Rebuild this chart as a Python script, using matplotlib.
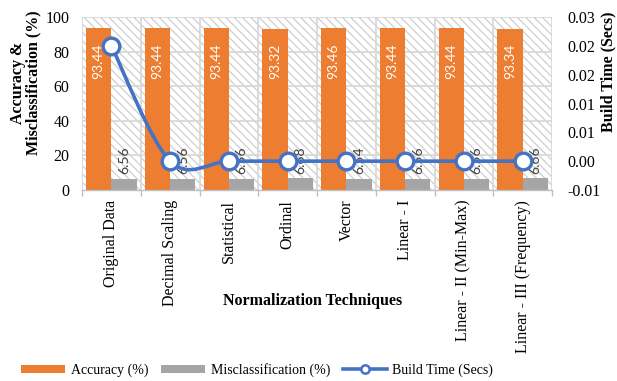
import numpy as np
import matplotlib
matplotlib.use("Agg")
import matplotlib.pyplot as plt
from matplotlib.patches import Rectangle, Patch, PathPatch
from matplotlib.lines import Line2D
from matplotlib.path import Path

# ---- data -----------------------------------------------------------------
techniques = ["Original Data", "Decimal Scaling", "Statistical", "Ordinal",
              "Vector", "Linear - I", "Linear - II (Min-Max)",
              "Linear - III (Frequency)"]
accuracy = [93.44, 93.44, 93.44, 93.32, 93.46, 93.44, 93.44, 93.34]
misclassification = [6.56, 6.56, 6.56, 6.68, 6.54, 6.56, 6.56, 6.66]
build_time = [0.02, 0.0, 0.0, 0.0, 0.0, 0.0, 0.0, 0.0]

left_ticks = [0, 20, 40, 60, 80, 100]
right_ticks = [-0.005, 0.0, 0.005, 0.01, 0.015, 0.02, 0.025]
right_tick_labels = ["-0.01", "0.00", "0.01", "0.01", "0.02", "0.02", "0.03"]

ORANGE = "#ED7D31"
GRAY = "#A5A5A5"
BLUE = "#4472C4"
GRID = "#D9D9D9"
SERIF = "Liberation Serif"
SANS = "Lato"

plt.rcParams["font.family"] = SERIF
plt.rcParams["hatch.linewidth"] = 0.9

fig = plt.figure(figsize=(6.17, 3.81), dpi=100)
ax = fig.add_axes([82 / 617, 1 - 190 / 381, 470 / 617, 173 / 381])

n = len(techniques)
x = np.arange(n)
w = 0.43

# hatched plot-area background
bg = Rectangle((0, 0), 1, 1, transform=ax.transAxes, facecolor="white",
               edgecolor="#CFCFCF", hatch="\\\\\\\\", linewidth=0, zorder=0)
ax.add_patch(bg)

ax.set_xlim(-0.5, n - 0.5)
ax.set_ylim(0, 100)

# gridlines
for yv in left_ticks[1:]:
    ax.axhline(yv, color=GRID, lw=1.3, zorder=1)
for xv in np.arange(-0.5, n, 1.0):
    ax.axvline(xv, color=GRID, lw=1.3, zorder=1)

ax.bar(x - w / 2, accuracy, w, color=ORANGE, zorder=2)
ax.bar(x + w / 2, misclassification, w, color=GRAY, zorder=2)

for xi, v in zip(x, accuracy):
    ax.annotate(f"{v:.2f}", (xi - w / 2, v), xytext=(0, -11),
                textcoords="offset points", rotation=90, ha="center",
                va="top", color="white", fontsize=10, family=SANS, zorder=3)
for xi, v in zip(x, misclassification):
    ax.annotate(f"{v:.2f}", (xi + w / 2, v), xytext=(0, 3.5),
                textcoords="offset points", rotation=90, ha="center",
                va="bottom", color="#404040", fontsize=10, family=SANS,
                zorder=3)

for s in ax.spines.values():
    s.set_visible(False)
ax.spines["bottom"].set_visible(True)
ax.spines["bottom"].set_color("#BFBFBF")
ax.spines["bottom"].set_linewidth(1.0)

ax.set_yticks(left_ticks)
ax.tick_params(axis="y", length=0, pad=9, labelsize=11.5)
ax.set_xticks(x)
ax.set_xticklabels(techniques, rotation=90, fontsize=11.5)
ax.set_xticks(np.arange(-0.5, n, 1.0), minor=True)
ax.tick_params(axis="x", which="major", length=0, pad=7)
ax.tick_params(axis="x", which="minor", length=4, color="#BFBFBF", width=1)

ax.set_xlabel("Normalization Techniques", fontsize=11.5, fontweight="bold")
ax.xaxis.set_label_coords((313 - 82) / 470, (190 - 293) / 173)
ax.set_ylabel("Accuracy &\nMisclassification (%)", fontsize=11.5,
              fontweight="bold", linespacing=1.0)
ax.yaxis.set_label_coords(-0.086, (190 - 83) / 173)

# secondary axis: build time, smoothed line
ax2 = ax.twinx()
ax2.set_ylim(-0.005, 0.025)
ax2.set_yticks(right_ticks)
ax2.set_yticklabels(right_tick_labels)
ax2.tick_params(axis="y", length=0, pad=11, labelsize=11.5)
for s in ax2.spines.values():
    s.set_visible(False)

pts = np.column_stack([x, build_time]).astype(float)
verts = [tuple(pts[0])]
codes = [Path.MOVETO]
for i in range(n - 1):
    p0 = pts[i - 1] if i > 0 else pts[i]
    p1, p2 = pts[i], pts[i + 1]
    p3 = pts[i + 2] if i + 2 < n else pts[i + 1]
    c1 = p1 + (p2 - p0) / 6
    c2 = p2 - (p3 - p1) / 6
    verts += [tuple(c1), tuple(c2), tuple(p2)]
    codes += [Path.CURVE4] * 3
curve = PathPatch(Path(verts, codes), facecolor="none", edgecolor=BLUE,
                  lw=2.6, zorder=4, capstyle="round", joinstyle="round")
ax2.add_patch(curve)
ax2.plot(x, build_time, linestyle="none", marker="o", markersize=12,
         markerfacecolor="white", markeredgecolor=BLUE, markeredgewidth=2.4,
         zorder=5)

ax2.set_ylabel("Build Time (Secs)", fontsize=11.5, fontweight="bold")
ax2.yaxis.set_label_coords((600 - 82) / 470, (190 - 72) / 173)

handles = [
    Patch(facecolor=ORANGE, edgecolor="none"),
    Patch(facecolor=GRAY, edgecolor="none"),
    Line2D([], [], color=BLUE, lw=2.6, marker="o", markersize=6,
           markerfacecolor="white", markeredgecolor=BLUE, markeredgewidth=1.8),
]
fig.legend(handles, ["Accuracy (%)", "Misclassification (%)",
                     "Build Time (Secs)"],
           loc="center", bbox_to_anchor=(257 / 617, 1 - 370 / 381), ncol=3,
           frameon=False, fontsize=10, handlelength=3.2, handleheight=0.5,
           columnspacing=0.9, handletextpad=0.4)

fig.savefig("out.png", dpi=100)
